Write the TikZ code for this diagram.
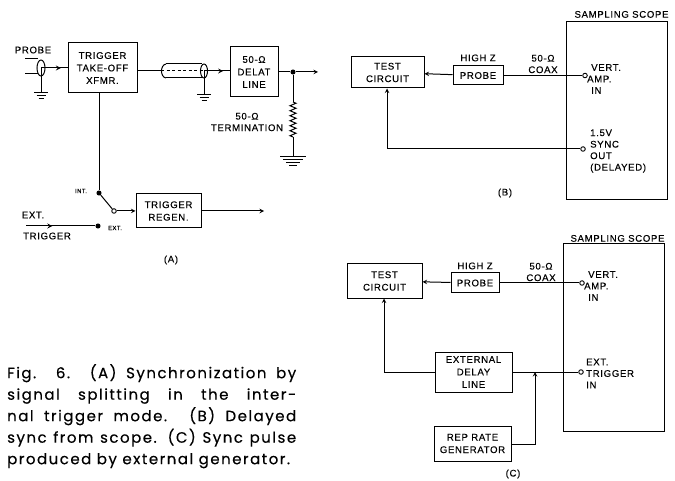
\documentclass[tikz,border=0pt]{standalone}
\usepackage{fontspec}
\setmainfont{Liberation Sans}
\newfontfamily\labelfont[LetterSpace=7, FakeBold=0.25]{Liberation Sans}
\newfontfamily\capfont[LetterSpace=10, FakeBold=0.4]{Poppins}
\usetikzlibrary{arrows, positioning, shapes.geometric, decorations.markings, decorations.pathmorphing}
\tikzstyle{block} = [rectangle, draw=black, line width=1pt, inner sep=0pt, align=center, font=\labelfont\fontsize{9.6}{12.5}\selectfont]
\tikzstyle{txt} = [inner sep=0pt, align=center, font=\labelfont\fontsize{9.6}{11.5}\selectfont]
\tikzstyle{small} = [inner sep=0pt, font=\labelfont\fontsize{6}{6}\selectfont]
\tikzstyle{arrow} = [line width=1pt,->,>=stealth]
\tikzstyle{wire} = [line width=1pt]
\tikzstyle{port} = [circle, draw=black, line width=0.9pt, fill=white, inner sep=1.6pt]
\tikzstyle{dot} = [circle, fill=black, inner sep=1.8pt]
\tikzset{
  midarrow/.style={postaction={decorate}, decoration={markings, mark=at position #1 with {\arrow[scale=1.1]{stealth}}}},
  gnd/.pic={
    \draw [wire] (-7,0) -- (7,0);
    \draw [wire] (-4.5,3) -- (4.5,3);
    \draw [wire] (-2.5,6) -- (2.5,6);
  },
  biggnd/.pic={
    \draw [wire] (-13,0) -- (13,0);
    \draw [wire] (-10,3) -- (10,3);
    \draw [wire] (-7,6) -- (7,6);
    \draw [wire] (-4,9) -- (4,9);
  }
}

\begin{document}
\begin{tikzpicture}[x=1pt, y=-1pt]
\useasboundingbox (0,0) rectangle (675,481);

% Panel A
\node (trig) [block, minimum width=69pt, minimum height=50pt] at (102.5,68) {TRIGGER\\TAKE-OFF\\XFMR.};
\node (dline) [block, minimum width=48pt, minimum height=50pt] at (254,72) {50-Ω\\DELAT\\LINE};
\node (regen) [block, minimum width=65pt, minimum height=34pt] at (168.5,211) {TRIGGER\\REGEN.};
\node (probelbl) [txt] at (33,50) {PROBE};
\node (termlbl) [txt] at (247,122) {50-Ω\\TERMINATION};
\node (extlbl) [txt] at (33,215) {EXT.};
\node (extlbl2) [txt] at (47,236) {TRIGGER};
\node (intlbl) [small] at (81,191) {INT.};
\node (extsw) [small] at (115,228) {EXT.};
\node (alabel) [txt] at (171,260) {(A)};

% probe and its shield
\coordinate (pa) at (25,59);
\coordinate (pb) at (25,74);
\coordinate (pc) at (41,68);
\coordinate (pg) at (41,93);
\node (pshield) [ellipse, draw=black, line width=1pt, minimum width=8pt, minimum height=16pt, inner sep=0pt] at (pc) {};
\draw [wire] (pa) -- ++(13,0);
\draw [wire] (pb) -- ++(13,0);
\draw [wire, midarrow=0.75] (pc) -- (trig.west);
\draw [wire] (pc) -- (pg);
\pic at (pg) {gnd};

% coax
\coordinate (cl) at (161,71);
\coordinate (cr) at (204,71);
\coordinate (cg) at (204,95);
\draw [wire] (trig.east |- cl) -- (cl);
\draw [wire] (166,64) -- (202,64);
\draw [wire] (166,78) -- (202,78);
\draw [wire] (166,64) .. controls (160,65) and (160,77) .. (166,78);
\node (cshield) [ellipse, draw=black, line width=1pt, minimum width=7pt, minimum height=14pt, inner sep=0pt] at (cr) {};
\draw [wire, dashed, dash pattern=on 3pt off 2.5pt] (cl) -- (cr);
\draw [wire, midarrow=0.75] (cr) -- (dline.west |- cr);
\draw [wire] (cr) -- (cg);
\pic at (cg) {gnd};

% output and termination
\node (jout) [dot] at (293,72) {};
\coordinate (oute) at (318,72);
\coordinate (ra) at (293,102);
\coordinate (rb) at (293,137);
\coordinate (rg) at (293,157);
\draw [wire] (dline.east) -- (jout);
\draw [arrow] (jout) -- (oute);
\draw [wire] (jout) -- (ra);
\draw [wire, decorate, decoration={zigzag, segment length=5pt, amplitude=3pt}] (ra) -- (rb);
\draw [wire] (rb) -- (rg);
\pic at (rg) {biggnd};

% switch
\node (swint) [dot] at (99,193) {};
\node (swout) [port] at (114,211) {};
\node (swext) [dot] at (98,226) {};
\coordinate (extin) at (26,226);
\coordinate (regout) at (264,211);
\draw [wire] (trig.south -| swint) -- (swint);
\draw [wire] (swint) -- (swout);
\draw [arrow] (swout) -- (regen.west);
\draw [arrow] (regen.east) -- (regout);
\draw [wire, midarrow=0.38] (extin) -- (swext);

% Panel B
\node (scopeb) [block, minimum width=101pt, minimum height=178pt] at (616.5,111) {};
\node (scopeblbl) [txt, above=3.5pt of scopeb, xshift=5pt] {SAMPLING SCOPE};
\node (testb) [block, minimum width=73pt, minimum height=31pt] at (387.5,72.5) {TEST\\CIRCUIT};
\node (probeb) [block, minimum width=50pt, minimum height=19pt] at (478,75.5) {PROBE};
\node (hizb) [txt, above=4pt of probeb] {HIGH Z};
\node (coaxb) [txt] at (543,64) {50-Ω\\COAX};
\node (portvb) [port] at (585,75.5) {};
\node (portsb) [port] at (583,149) {};
\node (vertb) [txt, align=left, anchor=west] at (587,79) {\hspace*{4pt}VERT.\\AMP.\\\hspace*{4pt}IN};
\node (syncb) [txt, align=left, anchor=west] at (590,151) {1.5V\\SYNC\\OUT\\(DELAYED)};
\node (blabel) [txt] at (505,193) {(B)};
\coordinate (cornerb) at (387,149);
\draw [arrow] (probeb) -- (testb);
\draw [wire] (probeb) -- (portvb);
\draw [arrow] (portsb) -- (cornerb) -- (testb.south -| cornerb);

% Panel C
\node (scopec) [block, minimum width=101pt, minimum height=187pt] at (613.5,337.5) {};
\node (scopeclbl) [txt, above=1.5pt of scopec, xshift=4pt] {SAMPLING SCOPE};
\node (testc) [block, minimum width=75pt, minimum height=34pt] at (384.5,281) {TEST\\CIRCUIT};
\node (probec) [block, minimum width=48pt, minimum height=20pt] at (475,283) {PROBE};
\node (hizc) [txt, above=3pt of probec] {HIGH Z};
\node (coaxc) [txt] at (541,272) {50-Ω\\COAX};
\node (portvc) [port] at (582,283) {};
\node (porttc) [port] at (581,372) {};
\node (vertc) [txt, align=left, anchor=west] at (584,286) {\hspace*{4pt}VERT.\\AMP.\\\hspace*{4pt}IN};
\node (trigc) [txt, align=left, anchor=west] at (586,373.5) {EXT.\\TRIGGER\\IN};
\node (delayc) [block, minimum width=77pt, minimum height=40pt] at (473.5,372) {EXTERNAL\\DELAY\\LINE};
\node (repc) [block, minimum width=77pt, minimum height=35pt] at (472.5,443.5) {REP RATE\\GENERATOR};
\node (clabel) [txt] at (513,474) {(C)};
\coordinate (cornerc) at (384,372);
\coordinate (jc) at (535,372);
\coordinate (cornerr) at (535,444);
\draw [arrow] (probec) -- (testc);
\draw [wire] (probec) -- (portvc);
\draw [arrow] (delayc.west |- cornerc) -- (cornerc) -- (testc.south -| cornerc);
\draw [wire] (delayc) -- (porttc);
\draw [arrow] (repc.east |- cornerr) -- (cornerr) -- (jc);

% Caption
\node (caption) [inner sep=0pt, anchor=north west, text width=289pt, align=justify, font=\capfont\fontsize{15}{21.5}\selectfont] at (7,364) {Fig. 6. (A) Synchronization by\linebreak signal splitting in the inter-\linebreak nal trigger mode. (B) Delayed\linebreak sync from scope. (C) Sync pulse\linebreak produced by external generator.};

\end{tikzpicture}
\end{document}
